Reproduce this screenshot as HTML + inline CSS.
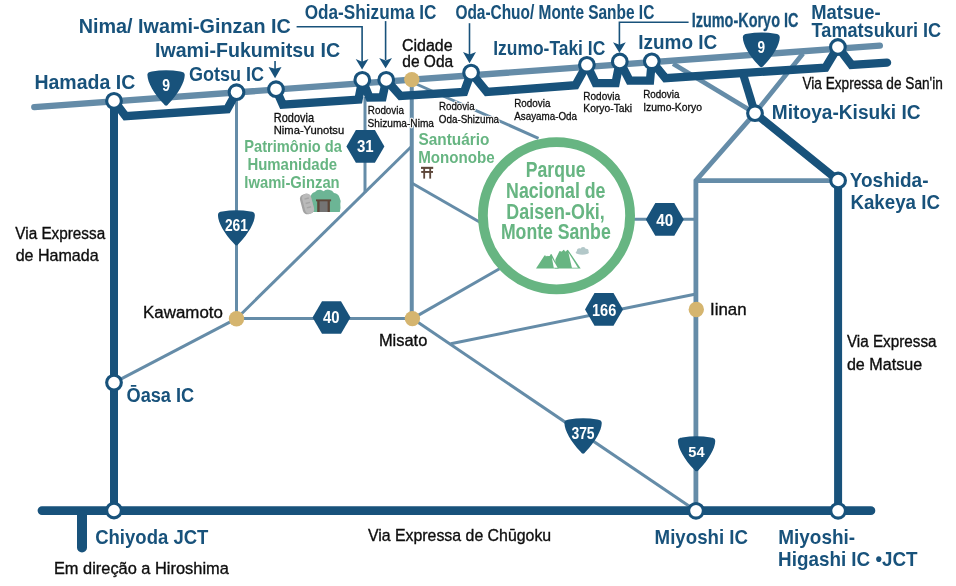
<!DOCTYPE html>
<html><head><meta charset="utf-8"><title>Mapa de acesso</title><style>html,body{margin:0;padding:0;background:#fff;width:956px;height:586px;overflow:hidden;}svg{display:block;font-family:"Liberation Sans",sans-serif;will-change:transform;}</style></head><body>
<svg width="956" height="586" viewBox="0 0 956 586" font-family="'Liberation Sans', sans-serif">
<polyline points="236.5,92.2 236.5,318.7" fill="none" stroke="#658ca8" stroke-width="3"/>
<polyline points="114,382.6 236.5,318.7" fill="none" stroke="#658ca8" stroke-width="3"/>
<polyline points="236.5,318.4 412.4,318.6" fill="none" stroke="#658ca8" stroke-width="3"/>
<polyline points="236.5,318.7 411.7,146.2" fill="none" stroke="#658ca8" stroke-width="3"/>
<polyline points="365,97 365,192.4" fill="none" stroke="#658ca8" stroke-width="3"/>
<polyline points="411.7,82 538.5,138.3" fill="none" stroke="#658ca8" stroke-width="3"/>
<polyline points="411.7,183 480,222.3" fill="none" stroke="#658ca8" stroke-width="3"/>
<polyline points="412.4,318.6 499.5,268.8" fill="none" stroke="#658ca8" stroke-width="3"/>
<polyline points="412.4,318.6 696,510.8" fill="none" stroke="#658ca8" stroke-width="3"/>
<polyline points="450.7,343.7 696,294" fill="none" stroke="#658ca8" stroke-width="3"/>
<polyline points="630,219.3 696,219.3" fill="none" stroke="#658ca8" stroke-width="3"/>
<line x1="411.75" y1="79.6" x2="411.75" y2="318.6" stroke="#658ca8" stroke-width="4"/>
<polyline points="803,53.5 755,113.2 695.9,180.6 695.9,510.8" fill="none" stroke="#658ca8" stroke-width="4.8" stroke-linejoin="miter"/>
<polyline points="695.9,180.6 838,180.6" fill="none" stroke="#658ca8" stroke-width="4.8" stroke-linejoin="miter"/>
<polyline points="673.1,63.8 755,113.2" fill="none" stroke="#658ca8" stroke-width="4.8" stroke-linejoin="miter"/>
<line x1="34.3" y1="107.1" x2="879.8" y2="45.6" stroke="#658ca8" stroke-width="6.4" stroke-linecap="round"/>
<polyline points="114,100.9 125.6,116.2 227.2,109.3 236.5,92.2" fill="none" stroke="#18527b" stroke-width="8.4" stroke-linejoin="miter" stroke-miterlimit="2" stroke-linecap="butt"/>
<polyline points="276,89.2 282.8,104.6 358.5,99.6 362.3,79.9 369.5,97.5 382.5,97.3 386.2,79.9 400.5,96 464.1,92 471.1,72.6 486.8,92 575.5,85.3 586.9,64.8 595.6,83.1 615.6,83.1 619.8,61.5 629.6,80.6 650,80.6 651.8,61.3 665.4,78.1 825.5,67.6 837.9,47 851.5,64.9 887,62.6" fill="none" stroke="#18527b" stroke-width="8.4" stroke-linejoin="miter" stroke-miterlimit="2" stroke-linecap="round"/>
<polyline points="742.7,72.9 755,113.2" fill="none" stroke="#18527b" stroke-width="8" stroke-linejoin="miter" stroke-miterlimit="2" stroke-linecap="butt"/>
<polyline points="755,113.2 838.1,180.5 838.1,510.8" fill="none" stroke="#18527b" stroke-width="8" stroke-linejoin="miter" stroke-miterlimit="2" stroke-linecap="butt"/>
<polyline points="114,100.9 114,510.5" fill="none" stroke="#18527b" stroke-width="8" stroke-linejoin="miter" stroke-miterlimit="2" stroke-linecap="butt"/>
<polyline points="42,510.6 870.9,510.7" fill="none" stroke="#18527b" stroke-width="8.8" stroke-linejoin="miter" stroke-miterlimit="2" stroke-linecap="round"/>
<polyline points="82,515 82,547.5" fill="none" stroke="#18527b" stroke-width="10" stroke-linejoin="miter" stroke-miterlimit="2" stroke-linecap="round"/>
<circle cx="556.5" cy="215.7" r="73.6" fill="none" stroke="#67b582" stroke-width="9.8"/>
<circle cx="114" cy="100.9" r="7.35" fill="#fff" stroke="#18527b" stroke-width="3.1"/>
<circle cx="236.5" cy="92.2" r="7.35" fill="#fff" stroke="#18527b" stroke-width="3.1"/>
<circle cx="276" cy="89.2" r="7.35" fill="#fff" stroke="#18527b" stroke-width="3.1"/>
<circle cx="362.3" cy="79.9" r="7.35" fill="#fff" stroke="#18527b" stroke-width="3.1"/>
<circle cx="386.2" cy="79.9" r="7.35" fill="#fff" stroke="#18527b" stroke-width="3.1"/>
<circle cx="471.1" cy="72.6" r="7.35" fill="#fff" stroke="#18527b" stroke-width="3.1"/>
<circle cx="586.9" cy="64.8" r="7.35" fill="#fff" stroke="#18527b" stroke-width="3.1"/>
<circle cx="619.8" cy="61.5" r="7.35" fill="#fff" stroke="#18527b" stroke-width="3.1"/>
<circle cx="651.8" cy="61.3" r="7.35" fill="#fff" stroke="#18527b" stroke-width="3.1"/>
<circle cx="837.9" cy="47" r="7.35" fill="#fff" stroke="#18527b" stroke-width="3.1"/>
<circle cx="755" cy="113.2" r="7.35" fill="#fff" stroke="#18527b" stroke-width="3.1"/>
<circle cx="838.1" cy="180.5" r="7.35" fill="#fff" stroke="#18527b" stroke-width="3.1"/>
<circle cx="114" cy="382.6" r="7.35" fill="#fff" stroke="#18527b" stroke-width="3.1"/>
<circle cx="114" cy="510.5" r="7.35" fill="#fff" stroke="#18527b" stroke-width="3.1"/>
<circle cx="696" cy="510.8" r="7.35" fill="#fff" stroke="#18527b" stroke-width="3.1"/>
<circle cx="838.1" cy="510.8" r="7.35" fill="#fff" stroke="#18527b" stroke-width="3.1"/>
<circle cx="411.8" cy="79.6" r="7.7" fill="#d5b56f"/>
<circle cx="236.5" cy="318.7" r="7.7" fill="#d5b56f"/>
<circle cx="412.4" cy="318.6" r="7.7" fill="#d5b56f"/>
<circle cx="696.3" cy="309.5" r="7.7" fill="#d5b56f"/>
<path transform="translate(147.2 70.1) scale(1.01 1.01)" d="M0.25,5.4 C0.0,2.7 1.9,1.7 4.6,1.4 Q18.7,-1.3 32.8,1.4 C35.5,1.7 37.4,2.7 37.15,5.4 C36.9,12.3 30.9,23.5 21.2,33.4 Q18.7,37.1 16.2,33.4 C6.5,23.5 0.5,12.3 0.25,5.4 Z" fill="#18527b"/>
<path transform="translate(742.6 32.4) scale(1 0.99)" d="M0.25,5.4 C0.0,2.7 1.9,1.7 4.6,1.4 Q18.7,-1.3 32.8,1.4 C35.5,1.7 37.4,2.7 37.15,5.4 C36.9,12.3 30.9,23.5 21.2,33.4 Q18.7,37.1 16.2,33.4 C6.5,23.5 0.5,12.3 0.25,5.4 Z" fill="#18527b"/>
<path transform="translate(217.7 210.2) scale(1 1)" d="M0.25,5.4 C0.0,2.7 1.9,1.7 4.6,1.4 Q18.7,-1.3 32.8,1.4 C35.5,1.7 37.4,2.7 37.15,5.4 C36.9,12.3 30.9,23.5 21.2,33.4 Q18.7,37.1 16.2,33.4 C6.5,23.5 0.5,12.3 0.25,5.4 Z" fill="#18527b"/>
<path transform="translate(564.2 418.1) scale(1.01 1.01)" d="M0.25,5.4 C0.0,2.7 1.9,1.7 4.6,1.4 Q18.7,-1.3 32.8,1.4 C35.5,1.7 37.4,2.7 37.15,5.4 C36.9,12.3 30.9,23.5 21.2,33.4 Q18.7,37.1 16.2,33.4 C6.5,23.5 0.5,12.3 0.25,5.4 Z" fill="#18527b"/>
<path transform="translate(677.7 436.1) scale(1.01 1)" d="M0.25,5.4 C0.0,2.7 1.9,1.7 4.6,1.4 Q18.7,-1.3 32.8,1.4 C35.5,1.7 37.4,2.7 37.15,5.4 C36.9,12.3 30.9,23.5 21.2,33.4 Q18.7,37.1 16.2,33.4 C6.5,23.5 0.5,12.3 0.25,5.4 Z" fill="#18527b"/>
<polygon points="346.4,146.4 355.9,130.05 374.9,130.05 384.4,146.4 374.9,162.75 355.9,162.75" fill="#18527b"/>
<polygon points="312.5,317.5 322,301.15 341,301.15 350.5,317.5 341,333.85 322,333.85" fill="#18527b"/>
<polygon points="645.8,219.4 655.3,203.05 674.3,203.05 683.8,219.4 674.3,235.75 655.3,235.75" fill="#18527b"/>
<polygon points="585,309.45 594.5,293.1 613.5,293.1 623,309.45 613.5,325.8 594.5,325.8" fill="#18527b"/>
<polyline points="296.6,26.8 362.1,26.8 362.1,62" fill="none" stroke="#18527b" stroke-width="1.6"/><polygon points="355.7,59.1 362.1,61.7 368.5,59.1 362.1,69.5" fill="#18527b"/>
<polyline points="385.6,21.1 385.6,60" fill="none" stroke="#18527b" stroke-width="1.6"/><polygon points="379.2,57.9 385.6,60.5 392,57.9 385.6,68.3" fill="#18527b"/>
<polyline points="275.05,61.1 275.05,70" fill="none" stroke="#18527b" stroke-width="1.6"/><polygon points="268.55,67 275.05,68.8 281.55,67 275.05,78.3" fill="#18527b"/>
<polyline points="469.5,23.2 469.5,56" fill="none" stroke="#18527b" stroke-width="1.6"/><polygon points="463,52 469.5,54.5 476,52 469.5,63.3" fill="#18527b"/>
<polyline points="688.6,22.3 619.4,22.3 619.4,46" fill="none" stroke="#18527b" stroke-width="1.6"/><polygon points="613,42.3 619.4,44.8 625.8,42.3 619.4,52.7" fill="#18527b"/>
<g fill="#5d4639"><rect x="421" y="166.8" width="12.2" height="2.1"/><rect x="421.2" y="171" width="11.8" height="1.9"/><rect x="423.3" y="168" width="1.8" height="10.6"/><rect x="429.3" y="168" width="1.8" height="10.6"/></g>
<g><path d="M310.7,212 L310.7,196 Q312,192.5 315,192 Q317,189.3 320.5,189.8 Q322.5,190.3 323.6,191.3 Q325.5,189.2 329,189.7 Q332.5,190.2 334,193 Q338.5,193.5 339.5,197.5 Q341.2,200.5 340.3,204 Q341,208 339.8,212 Z" fill="#6cb595"/><rect x="316" y="199.4" width="15.1" height="1.9" fill="#5d4639"/><rect x="317.2" y="200.5" width="12.7" height="11.5" fill="#5d4639"/><rect x="319.6" y="201.3" width="8" height="10.7" fill="#747474"/><g transform="rotate(-15 307 204)"><rect x="301.3" y="193.8" width="11.4" height="20.4" rx="4.6" fill="#a3a3a3"/><rect x="303.6" y="193.8" width="9.1" height="20.4" rx="4.2" fill="#bababa"/><rect x="305.8" y="198" width="4.5" height="1.4" fill="#a5a5a5"/><rect x="305.8" y="202.5" width="4.5" height="1.4" fill="#a5a5a5"/><rect x="305.8" y="207" width="4.5" height="1.4" fill="#a5a5a5"/></g></g>
<g fill="#67b582"><polygon points="554.92,268.6 555.44,259.34 559.37,251.23 560.15,250.97 561.2,251.75 562.5,250.97 563.29,249.92 564.07,249.66 564.86,251.23 565.9,251.49 566.69,250.45 567.47,249.77 568.26,250.18 580.7,268.6"/><polygon points="536,268.6 544.46,255.41 545.24,255.15 545.92,256.46 547.08,255.83 547.86,256.2 548.64,255.94 549.69,255.94 550.63,254.37 551.52,254.11 558.7,268.6"/></g>
<g fill="#fff"><polygon points="551.89,257.7 553.77,267.75 557.64,267.75"/><polygon points="568.4,252.4 571.92,267.75 577.93,267.75"/></g>
<g fill="#b3c8c9"><ellipse cx="582.3" cy="252.4" rx="6.5" ry="2.3"/><circle cx="579.4" cy="250.8" r="2.5"/><circle cx="583.1" cy="249.6" r="2.6"/><circle cx="586.4" cy="251" r="2.2"/></g>
<g style="opacity:0.999"><text x="78.73" y="33.2" font-size="20.49" font-weight="bold" textLength="212.07" lengthAdjust="spacingAndGlyphs" fill="#fff" stroke="#fff" stroke-width="1.4" stroke-linejoin="round">Nima/ Iwami-Ginzan IC</text>
<text x="78.73" y="33.2" font-size="20.49" font-weight="bold" textLength="212.07" lengthAdjust="spacingAndGlyphs" fill="#18527b">Nima/ Iwami-Ginzan IC</text>
<text x="154.96" y="56.7" font-size="20.78" font-weight="bold" textLength="185.14" lengthAdjust="spacingAndGlyphs" fill="#fff" stroke="#fff" stroke-width="1.4" stroke-linejoin="round">Iwami-Fukumitsu IC</text>
<text x="154.96" y="56.7" font-size="20.78" font-weight="bold" textLength="185.14" lengthAdjust="spacingAndGlyphs" fill="#18527b">Iwami-Fukumitsu IC</text>
<text x="188.9" y="80.6" font-size="20.49" font-weight="bold" textLength="75.12" lengthAdjust="spacingAndGlyphs" fill="#fff" stroke="#fff" stroke-width="1.4" stroke-linejoin="round">Gotsu IC</text>
<text x="188.9" y="80.6" font-size="20.49" font-weight="bold" textLength="75.12" lengthAdjust="spacingAndGlyphs" fill="#18527b">Gotsu IC</text>
<text x="304.7" y="18.8" font-size="20.2" font-weight="bold" textLength="131.74" lengthAdjust="spacingAndGlyphs" fill="#fff" stroke="#fff" stroke-width="1.4" stroke-linejoin="round">Oda-Shizuma IC</text>
<text x="304.7" y="18.8" font-size="20.2" font-weight="bold" textLength="131.74" lengthAdjust="spacingAndGlyphs" fill="#18527b">Oda-Shizuma IC</text>
<text x="455.4" y="18.8" font-size="19.91" font-weight="bold" textLength="198.89" lengthAdjust="spacingAndGlyphs" fill="#fff" stroke="#fff" stroke-width="1.4" stroke-linejoin="round">Oda-Chuo/ Monte Sanbe IC</text>
<text x="455.4" y="18.8" font-size="19.91" font-weight="bold" textLength="198.89" lengthAdjust="spacingAndGlyphs" fill="#18527b" stroke="#18527b" stroke-width="0.08">Oda-Chuo/ Monte Sanbe IC</text>
<text x="493.25" y="54.8" font-size="20.49" font-weight="bold" textLength="111.97" lengthAdjust="spacingAndGlyphs" fill="#fff" stroke="#fff" stroke-width="1.4" stroke-linejoin="round">Izumo-Taki IC</text>
<text x="493.25" y="54.8" font-size="20.49" font-weight="bold" textLength="111.97" lengthAdjust="spacingAndGlyphs" fill="#18527b">Izumo-Taki IC</text>
<text x="691.69" y="27.4" font-size="20.49" font-weight="bold" textLength="106.76" lengthAdjust="spacingAndGlyphs" fill="#fff" stroke="#fff" stroke-width="1.4" stroke-linejoin="round">Izumo-Koryo IC</text>
<text x="691.69" y="27.4" font-size="20.49" font-weight="bold" textLength="106.76" lengthAdjust="spacingAndGlyphs" fill="#18527b" stroke="#18527b" stroke-width="0.29">Izumo-Koryo IC</text>
<text x="638.27" y="49.4" font-size="20.49" font-weight="bold" textLength="79.03" lengthAdjust="spacingAndGlyphs" fill="#fff" stroke="#fff" stroke-width="1.4" stroke-linejoin="round">Izumo IC</text>
<text x="638.27" y="49.4" font-size="20.49" font-weight="bold" textLength="79.03" lengthAdjust="spacingAndGlyphs" fill="#18527b">Izumo IC</text>
<text x="811.29" y="18.8" font-size="20.2" font-weight="bold" textLength="69.37" lengthAdjust="spacingAndGlyphs" fill="#fff" stroke="#fff" stroke-width="1.4" stroke-linejoin="round">Matsue-</text>
<text x="811.29" y="18.8" font-size="20.2" font-weight="bold" textLength="69.37" lengthAdjust="spacingAndGlyphs" fill="#18527b">Matsue-</text>
<text x="811.6" y="36.9" font-size="20.06" font-weight="bold" textLength="129.53" lengthAdjust="spacingAndGlyphs" fill="#fff" stroke="#fff" stroke-width="1.4" stroke-linejoin="round">Tamatsukuri IC</text>
<text x="811.6" y="36.9" font-size="20.06" font-weight="bold" textLength="129.53" lengthAdjust="spacingAndGlyphs" fill="#18527b">Tamatsukuri IC</text>
<text x="34.43" y="88.7" font-size="20.06" font-weight="bold" textLength="100.84" lengthAdjust="spacingAndGlyphs" fill="#fff" stroke="#fff" stroke-width="1.4" stroke-linejoin="round">Hamada IC</text>
<text x="34.43" y="88.7" font-size="20.06" font-weight="bold" textLength="100.84" lengthAdjust="spacingAndGlyphs" fill="#18527b">Hamada IC</text>
<text x="771.86" y="118.9" font-size="20.35" font-weight="bold" textLength="148.75" lengthAdjust="spacingAndGlyphs" fill="#fff" stroke="#fff" stroke-width="1.4" stroke-linejoin="round">Mitoya-Kisuki IC</text>
<text x="771.86" y="118.9" font-size="20.35" font-weight="bold" textLength="148.75" lengthAdjust="spacingAndGlyphs" fill="#18527b">Mitoya-Kisuki IC</text>
<text x="849.8" y="186.5" font-size="20.64" font-weight="bold" textLength="78.68" lengthAdjust="spacingAndGlyphs" fill="#fff" stroke="#fff" stroke-width="1.4" stroke-linejoin="round">Yoshida-</text>
<text x="849.8" y="186.5" font-size="20.64" font-weight="bold" textLength="78.68" lengthAdjust="spacingAndGlyphs" fill="#18527b">Yoshida-</text>
<text x="850.39" y="209" font-size="20.49" font-weight="bold" textLength="89.53" lengthAdjust="spacingAndGlyphs" fill="#fff" stroke="#fff" stroke-width="1.4" stroke-linejoin="round">Kakeya IC</text>
<text x="850.39" y="209" font-size="20.49" font-weight="bold" textLength="89.53" lengthAdjust="spacingAndGlyphs" fill="#18527b">Kakeya IC</text>
<text x="126.5" y="401.9" font-size="20.35" font-weight="bold" textLength="67.72" lengthAdjust="spacingAndGlyphs" fill="#fff" stroke="#fff" stroke-width="1.4" stroke-linejoin="round">Ōasa IC</text>
<text x="126.5" y="401.9" font-size="20.35" font-weight="bold" textLength="67.72" lengthAdjust="spacingAndGlyphs" fill="#18527b">Ōasa IC</text>
<text x="95.2" y="543.7" font-size="20.35" font-weight="bold" textLength="113.18" lengthAdjust="spacingAndGlyphs" fill="#fff" stroke="#fff" stroke-width="1.4" stroke-linejoin="round">Chiyoda JCT</text>
<text x="95.2" y="543.7" font-size="20.35" font-weight="bold" textLength="113.18" lengthAdjust="spacingAndGlyphs" fill="#18527b">Chiyoda JCT</text>
<text x="654.59" y="543.7" font-size="20.64" font-weight="bold" textLength="93.41" lengthAdjust="spacingAndGlyphs" fill="#fff" stroke="#fff" stroke-width="1.4" stroke-linejoin="round">Miyoshi IC</text>
<text x="654.59" y="543.7" font-size="20.64" font-weight="bold" textLength="93.41" lengthAdjust="spacingAndGlyphs" fill="#18527b">Miyoshi IC</text>
<text x="778.28" y="543.7" font-size="20.64" font-weight="bold" textLength="76.9" lengthAdjust="spacingAndGlyphs" fill="#fff" stroke="#fff" stroke-width="1.4" stroke-linejoin="round">Miyoshi-</text>
<text x="778.28" y="543.7" font-size="20.64" font-weight="bold" textLength="76.9" lengthAdjust="spacingAndGlyphs" fill="#18527b">Miyoshi-</text>
<text x="778.09" y="566" font-size="20.64" font-weight="bold" textLength="139.55" lengthAdjust="spacingAndGlyphs" fill="#fff" stroke="#fff" stroke-width="1.4" stroke-linejoin="round">Higashi IC •JCT</text>
<text x="778.09" y="566" font-size="20.64" font-weight="bold" textLength="139.55" lengthAdjust="spacingAndGlyphs" fill="#18527b">Higashi IC •JCT</text>
<text x="402" y="50.9" font-size="15.84" font-weight="normal" textLength="50.6" lengthAdjust="spacingAndGlyphs" fill="#fff" stroke="#fff" stroke-width="2.4" stroke-linejoin="round">Cidade</text>
<text x="402" y="50.9" font-size="15.84" font-weight="normal" textLength="50.6" lengthAdjust="spacingAndGlyphs" fill="#0e0e0e" stroke="#0e0e0e" stroke-width="0.35">Cidade</text>
<text x="402.3" y="66.9" font-size="16.13" font-weight="normal" textLength="50.86" lengthAdjust="spacingAndGlyphs" fill="#fff" stroke="#fff" stroke-width="2.4" stroke-linejoin="round">de Oda</text>
<text x="402.3" y="66.9" font-size="16.13" font-weight="normal" textLength="50.86" lengthAdjust="spacingAndGlyphs" fill="#0e0e0e" stroke="#0e0e0e" stroke-width="0.35">de Oda</text>
<text x="802.4" y="89.1" font-size="16.86" font-weight="normal" textLength="140.4" lengthAdjust="spacingAndGlyphs" fill="#fff" stroke="#fff" stroke-width="2.4" stroke-linejoin="round">Via Expressa de San&#39;in</text>
<text x="802.4" y="89.1" font-size="16.86" font-weight="normal" textLength="140.4" lengthAdjust="spacingAndGlyphs" fill="#0e0e0e" stroke="#0e0e0e" stroke-width="0.35">Via Expressa de San&#39;in</text>
<text x="15.3" y="238.6" font-size="16.42" font-weight="normal" textLength="89.88" lengthAdjust="spacingAndGlyphs" fill="#fff" stroke="#fff" stroke-width="2.4" stroke-linejoin="round">Via Expressa</text>
<text x="15.3" y="238.6" font-size="16.42" font-weight="normal" textLength="89.88" lengthAdjust="spacingAndGlyphs" fill="#0e0e0e" stroke="#0e0e0e" stroke-width="0.35">Via Expressa</text>
<text x="15.7" y="261" font-size="16.57" font-weight="normal" textLength="82.94" lengthAdjust="spacingAndGlyphs" fill="#fff" stroke="#fff" stroke-width="2.4" stroke-linejoin="round">de Hamada</text>
<text x="15.7" y="261" font-size="16.57" font-weight="normal" textLength="82.94" lengthAdjust="spacingAndGlyphs" fill="#0e0e0e" stroke="#0e0e0e" stroke-width="0.35">de Hamada</text>
<text x="143.12" y="317.7" font-size="17.3" font-weight="normal" textLength="79.77" lengthAdjust="spacingAndGlyphs" fill="#fff" stroke="#fff" stroke-width="2.4" stroke-linejoin="round">Kawamoto</text>
<text x="143.12" y="317.7" font-size="17.3" font-weight="normal" textLength="79.77" lengthAdjust="spacingAndGlyphs" fill="#0e0e0e" stroke="#0e0e0e" stroke-width="0.35">Kawamoto</text>
<text x="378.92" y="345.7" font-size="16.72" font-weight="normal" textLength="48.37" lengthAdjust="spacingAndGlyphs" fill="#fff" stroke="#fff" stroke-width="2.4" stroke-linejoin="round">Misato</text>
<text x="378.92" y="345.7" font-size="16.72" font-weight="normal" textLength="48.37" lengthAdjust="spacingAndGlyphs" fill="#0e0e0e" stroke="#0e0e0e" stroke-width="0.35">Misato</text>
<text x="710.01" y="314.6" font-size="17.01" font-weight="normal" textLength="36.54" lengthAdjust="spacingAndGlyphs" fill="#fff" stroke="#fff" stroke-width="2.4" stroke-linejoin="round">Iinan</text>
<text x="710.01" y="314.6" font-size="17.01" font-weight="normal" textLength="36.54" lengthAdjust="spacingAndGlyphs" fill="#0e0e0e" stroke="#0e0e0e" stroke-width="0.35">Iinan</text>
<text x="846.9" y="347.4" font-size="16.42" font-weight="normal" textLength="89.69" lengthAdjust="spacingAndGlyphs" fill="#fff" stroke="#fff" stroke-width="2.4" stroke-linejoin="round">Via Expressa</text>
<text x="846.9" y="347.4" font-size="16.42" font-weight="normal" textLength="89.69" lengthAdjust="spacingAndGlyphs" fill="#0e0e0e" stroke="#0e0e0e" stroke-width="0.35">Via Expressa</text>
<text x="846.9" y="369.8" font-size="16.42" font-weight="normal" textLength="75.22" lengthAdjust="spacingAndGlyphs" fill="#fff" stroke="#fff" stroke-width="2.4" stroke-linejoin="round">de Matsue</text>
<text x="846.9" y="369.8" font-size="16.42" font-weight="normal" textLength="75.22" lengthAdjust="spacingAndGlyphs" fill="#0e0e0e" stroke="#0e0e0e" stroke-width="0.35">de Matsue</text>
<text x="53.93" y="573.7" font-size="16.86" font-weight="normal" textLength="174.87" lengthAdjust="spacingAndGlyphs" fill="#fff" stroke="#fff" stroke-width="2.4" stroke-linejoin="round">Em direção a Hiroshima</text>
<text x="53.93" y="573.7" font-size="16.86" font-weight="normal" textLength="174.87" lengthAdjust="spacingAndGlyphs" fill="#0e0e0e" stroke="#0e0e0e" stroke-width="0.35">Em direção a Hiroshima</text>
<text x="367.9" y="540.5" font-size="16.57" font-weight="normal" textLength="183.3" lengthAdjust="spacingAndGlyphs" fill="#fff" stroke="#fff" stroke-width="2.4" stroke-linejoin="round">Via Expressa de Chūgoku</text>
<text x="367.9" y="540.5" font-size="16.57" font-weight="normal" textLength="183.3" lengthAdjust="spacingAndGlyphs" fill="#0e0e0e" stroke="#0e0e0e" stroke-width="0.35">Via Expressa de Chūgoku</text>
<text x="273.8" y="121.6" font-size="11.92" font-weight="normal" textLength="40.25" lengthAdjust="spacingAndGlyphs" fill="#fff" stroke="#fff" stroke-width="2.4" stroke-linejoin="round">Rodovia</text>
<text x="273.8" y="121.6" font-size="11.92" font-weight="normal" textLength="40.25" lengthAdjust="spacingAndGlyphs" fill="#0e0e0e" stroke="#0e0e0e" stroke-width="0.3">Rodovia</text>
<text x="273.7" y="134.4" font-size="11.77" font-weight="normal" textLength="70.52" lengthAdjust="spacingAndGlyphs" fill="#fff" stroke="#fff" stroke-width="2.4" stroke-linejoin="round">Nima-Yunotsu</text>
<text x="273.7" y="134.4" font-size="11.77" font-weight="normal" textLength="70.52" lengthAdjust="spacingAndGlyphs" fill="#0e0e0e" stroke="#0e0e0e" stroke-width="0.3">Nima-Yunotsu</text>
<text x="367.8" y="113.7" font-size="11.63" font-weight="normal" textLength="36.15" lengthAdjust="spacingAndGlyphs" fill="#fff" stroke="#fff" stroke-width="2.4" stroke-linejoin="round">Rodovia</text>
<text x="367.8" y="113.7" font-size="11.63" font-weight="normal" textLength="36.15" lengthAdjust="spacingAndGlyphs" fill="#0e0e0e" stroke="#0e0e0e" stroke-width="0.3">Rodovia</text>
<text x="367.6" y="126.8" font-size="11.48" font-weight="normal" textLength="66.35" lengthAdjust="spacingAndGlyphs" fill="#fff" stroke="#fff" stroke-width="2.4" stroke-linejoin="round">Shizuma-Nima</text>
<text x="367.6" y="126.8" font-size="11.48" font-weight="normal" textLength="66.35" lengthAdjust="spacingAndGlyphs" fill="#0e0e0e" stroke="#0e0e0e" stroke-width="0.3">Shizuma-Nima</text>
<text x="439" y="109.7" font-size="11.63" font-weight="normal" textLength="35.65" lengthAdjust="spacingAndGlyphs" fill="#fff" stroke="#fff" stroke-width="2.4" stroke-linejoin="round">Rodovia</text>
<text x="439" y="109.7" font-size="11.63" font-weight="normal" textLength="35.65" lengthAdjust="spacingAndGlyphs" fill="#0e0e0e" stroke="#0e0e0e" stroke-width="0.3">Rodovia</text>
<text x="438.8" y="122.7" font-size="11.34" font-weight="normal" textLength="60.29" lengthAdjust="spacingAndGlyphs" fill="#fff" stroke="#fff" stroke-width="2.4" stroke-linejoin="round">Oda-Shizuma</text>
<text x="438.8" y="122.7" font-size="11.34" font-weight="normal" textLength="60.29" lengthAdjust="spacingAndGlyphs" fill="#0e0e0e" stroke="#0e0e0e" stroke-width="0.3">Oda-Shizuma</text>
<text x="514.2" y="106.9" font-size="11.19" font-weight="normal" textLength="36.21" lengthAdjust="spacingAndGlyphs" fill="#fff" stroke="#fff" stroke-width="2.4" stroke-linejoin="round">Rodovia</text>
<text x="514.2" y="106.9" font-size="11.19" font-weight="normal" textLength="36.21" lengthAdjust="spacingAndGlyphs" fill="#0e0e0e" stroke="#0e0e0e" stroke-width="0.3">Rodovia</text>
<text x="514.3" y="119.6" font-size="10.61" font-weight="normal" textLength="62.71" lengthAdjust="spacingAndGlyphs" fill="#fff" stroke="#fff" stroke-width="2.4" stroke-linejoin="round">Asayama-Oda</text>
<text x="514.3" y="119.6" font-size="10.61" font-weight="normal" textLength="62.71" lengthAdjust="spacingAndGlyphs" fill="#0e0e0e" stroke="#0e0e0e" stroke-width="0.3">Asayama-Oda</text>
<text x="583.3" y="99.6" font-size="10.61" font-weight="normal" textLength="36.71" lengthAdjust="spacingAndGlyphs" fill="#fff" stroke="#fff" stroke-width="2.4" stroke-linejoin="round">Rodovia</text>
<text x="583.3" y="99.6" font-size="10.61" font-weight="normal" textLength="36.71" lengthAdjust="spacingAndGlyphs" fill="#0e0e0e" stroke="#0e0e0e" stroke-width="0.3">Rodovia</text>
<text x="583.3" y="112.2" font-size="10.61" font-weight="normal" textLength="48.65" lengthAdjust="spacingAndGlyphs" fill="#fff" stroke="#fff" stroke-width="2.4" stroke-linejoin="round">Koryo-Taki</text>
<text x="583.3" y="112.2" font-size="10.61" font-weight="normal" textLength="48.65" lengthAdjust="spacingAndGlyphs" fill="#0e0e0e" stroke="#0e0e0e" stroke-width="0.3">Koryo-Taki</text>
<text x="643.2" y="98" font-size="10.61" font-weight="normal" textLength="36.21" lengthAdjust="spacingAndGlyphs" fill="#fff" stroke="#fff" stroke-width="2.4" stroke-linejoin="round">Rodovia</text>
<text x="643.2" y="98" font-size="10.61" font-weight="normal" textLength="36.21" lengthAdjust="spacingAndGlyphs" fill="#0e0e0e" stroke="#0e0e0e" stroke-width="0.3">Rodovia</text>
<text x="643.2" y="110.6" font-size="10.61" font-weight="normal" textLength="58.7" lengthAdjust="spacingAndGlyphs" fill="#fff" stroke="#fff" stroke-width="2.4" stroke-linejoin="round">Izumo-Koryo</text>
<text x="643.2" y="110.6" font-size="10.61" font-weight="normal" textLength="58.7" lengthAdjust="spacingAndGlyphs" fill="#0e0e0e" stroke="#0e0e0e" stroke-width="0.3">Izumo-Koryo</text>
<text x="244.25" y="151.8" font-size="17.15" font-weight="bold" textLength="97.66" lengthAdjust="spacingAndGlyphs" fill="#fff" stroke="#fff" stroke-width="2.0" stroke-linejoin="round">Patrimônio da</text>
<text x="244.25" y="151.8" font-size="17.15" font-weight="bold" textLength="97.66" lengthAdjust="spacingAndGlyphs" fill="#67b582">Patrimônio da</text>
<text x="247.42" y="169.9" font-size="17.01" font-weight="bold" textLength="89.68" lengthAdjust="spacingAndGlyphs" fill="#fff" stroke="#fff" stroke-width="2.0" stroke-linejoin="round">Humanidade</text>
<text x="247.42" y="169.9" font-size="17.01" font-weight="bold" textLength="89.68" lengthAdjust="spacingAndGlyphs" fill="#67b582">Humanidade</text>
<text x="244.31" y="187.9" font-size="16.72" font-weight="bold" textLength="95.37" lengthAdjust="spacingAndGlyphs" fill="#fff" stroke="#fff" stroke-width="2.0" stroke-linejoin="round">Iwami-Ginzan</text>
<text x="244.31" y="187.9" font-size="16.72" font-weight="bold" textLength="95.37" lengthAdjust="spacingAndGlyphs" fill="#67b582">Iwami-Ginzan</text>
<text x="418.5" y="145" font-size="17.01" font-weight="bold" textLength="70.95" lengthAdjust="spacingAndGlyphs" fill="#fff" stroke="#fff" stroke-width="2.0" stroke-linejoin="round">Santuário</text>
<text x="418.5" y="145" font-size="17.01" font-weight="bold" textLength="70.95" lengthAdjust="spacingAndGlyphs" fill="#67b582">Santuário</text>
<text x="418.22" y="163" font-size="17.15" font-weight="bold" textLength="76.55" lengthAdjust="spacingAndGlyphs" fill="#fff" stroke="#fff" stroke-width="2.0" stroke-linejoin="round">Mononobe</text>
<text x="418.22" y="163" font-size="17.15" font-weight="bold" textLength="76.55" lengthAdjust="spacingAndGlyphs" fill="#67b582">Mononobe</text>
<text x="525.81" y="176.5" font-size="22.38" font-weight="bold" textLength="59.64" lengthAdjust="spacingAndGlyphs" fill="#fff" stroke="#fff" stroke-width="2.0" stroke-linejoin="round">Parque</text>
<text x="525.81" y="176.5" font-size="22.38" font-weight="bold" textLength="59.64" lengthAdjust="spacingAndGlyphs" fill="#67b582" stroke="#67b582" stroke-width="0.05">Parque</text>
<text x="506.12" y="197.5" font-size="22.67" font-weight="bold" textLength="99.35" lengthAdjust="spacingAndGlyphs" fill="#fff" stroke="#fff" stroke-width="2.0" stroke-linejoin="round">Nacional de</text>
<text x="506.12" y="197.5" font-size="22.67" font-weight="bold" textLength="99.35" lengthAdjust="spacingAndGlyphs" fill="#67b582" stroke="#67b582" stroke-width="0.07">Nacional de</text>
<text x="506.3" y="218.6" font-size="22.53" font-weight="bold" textLength="98.49" lengthAdjust="spacingAndGlyphs" fill="#fff" stroke="#fff" stroke-width="2.0" stroke-linejoin="round">Daisen-Oki,</text>
<text x="506.3" y="218.6" font-size="22.53" font-weight="bold" textLength="98.49" lengthAdjust="spacingAndGlyphs" fill="#67b582">Daisen-Oki,</text>
<text x="500.92" y="239.4" font-size="22.53" font-weight="bold" textLength="109.79" lengthAdjust="spacingAndGlyphs" fill="#fff" stroke="#fff" stroke-width="2.0" stroke-linejoin="round">Monte Sanbe</text>
<text x="500.92" y="239.4" font-size="22.53" font-weight="bold" textLength="109.79" lengthAdjust="spacingAndGlyphs" fill="#67b582" stroke="#67b582" stroke-width="0.06">Monte Sanbe</text>
<text x="162.3" y="90.84" font-size="15.68" font-weight="bold" textLength="7.75" lengthAdjust="spacingAndGlyphs" fill="#ffffff">9</text>
<text x="757.4" y="53.44" font-size="16.38" font-weight="bold" textLength="7.58" lengthAdjust="spacingAndGlyphs" fill="#ffffff">9</text>
<text x="224.9" y="230.94" font-size="16.24" font-weight="bold" textLength="23.02" lengthAdjust="spacingAndGlyphs" fill="#ffffff">261</text>
<text x="571.4" y="439.13" font-size="16.67" font-weight="bold" textLength="23.22" lengthAdjust="spacingAndGlyphs" fill="#ffffff">375</text>
<text x="688.3" y="456.94" font-size="15.54" font-weight="bold" textLength="16.26" lengthAdjust="spacingAndGlyphs" fill="#ffffff">54</text>
<text x="357" y="152.13" font-size="16.53" font-weight="bold" textLength="16.67" lengthAdjust="spacingAndGlyphs" fill="#ffffff">31</text>
<text x="323" y="323.04" font-size="15.96" font-weight="bold" textLength="16.58" lengthAdjust="spacingAndGlyphs" fill="#ffffff">40</text>
<text x="656.3" y="225.73" font-size="16.81" font-weight="bold" textLength="17.01" lengthAdjust="spacingAndGlyphs" fill="#ffffff">40</text>
<text x="592.03" y="315.63" font-size="16.67" font-weight="bold" textLength="24.3" lengthAdjust="spacingAndGlyphs" fill="#ffffff">166</text></g>
</svg>
</body></html>
